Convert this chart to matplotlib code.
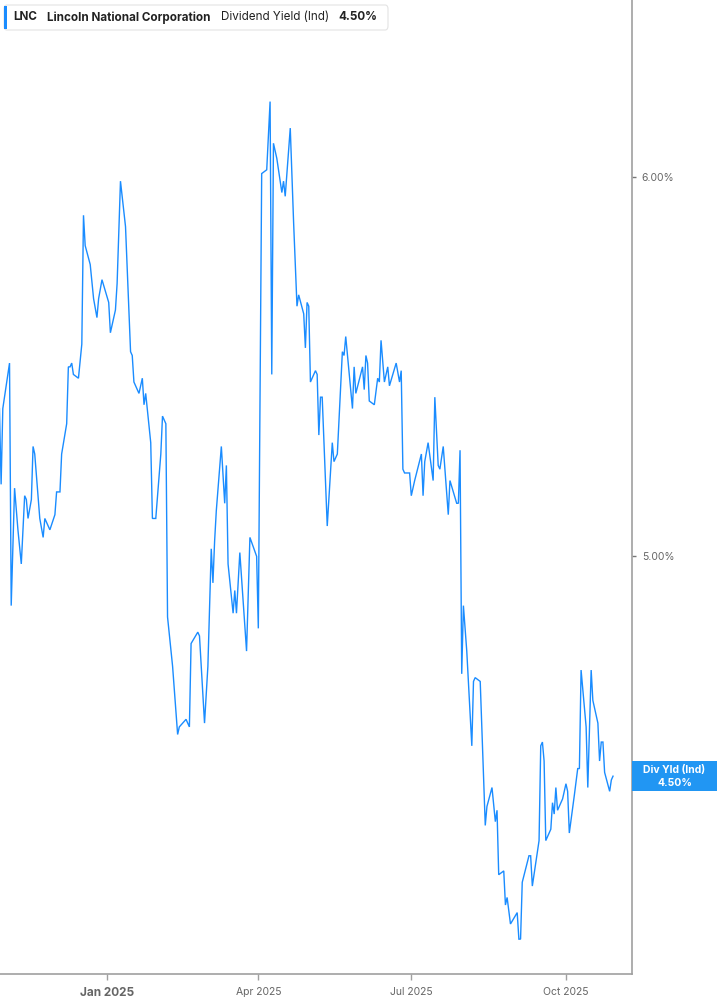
import matplotlib
matplotlib.use("Agg")
import matplotlib.pyplot as plt
import matplotlib.transforms as mtransforms
from matplotlib.patches import FancyBboxPatch, Rectangle
import pandas as pd

# LNC dividend yield (indicated), %
dates = [
    "2024-10-29", "2024-10-30", "2024-10-31", "2024-11-04", "2024-11-05", "2024-11-07",
    "2024-11-09", "2024-11-11", "2024-11-13", "2024-11-14", "2024-11-15", "2024-11-17",
    "2024-11-18", "2024-11-19", "2024-11-22", "2024-11-24", "2024-11-25", "2024-11-28",
    "2024-12-01", "2024-12-02", "2024-12-04", "2024-12-05", "2024-12-08", "2024-12-09",
    "2024-12-10", "2024-12-11", "2024-12-12", "2024-12-15", "2024-12-17", "2024-12-18",
    "2024-12-19", "2024-12-22", "2024-12-24", "2024-12-26", "2024-12-27", "2024-12-29",
    "2024-12-31", "2025-01-02", "2025-01-03", "2025-01-06", "2025-01-07", "2025-01-09",
    "2025-01-12", "2025-01-15", "2025-01-16", "2025-01-17", "2025-01-20", "2025-01-22",
    "2025-01-23", "2025-01-24", "2025-01-27", "2025-01-28", "2025-01-30", "2025-02-02",
    "2025-02-03", "2025-02-05", "2025-02-06", "2025-02-09", "2025-02-12", "2025-02-13",
    "2025-02-17", "2025-02-19", "2025-02-20", "2025-02-24", "2025-02-25", "2025-02-28",
    "2025-03-02", "2025-03-04", "2025-03-05", "2025-03-06", "2025-03-07", "2025-03-10",
    "2025-03-12", "2025-03-13", "2025-03-14", "2025-03-17", "2025-03-18", "2025-03-19",
    "2025-03-21", "2025-03-25", "2025-03-27", "2025-03-31", "2025-04-01", "2025-04-03",
    "2025-04-06", "2025-04-08", "2025-04-09", "2025-04-10", "2025-04-12", "2025-04-15",
    "2025-04-16", "2025-04-17", "2025-04-20", "2025-04-22", "2025-04-24", "2025-04-25",
    "2025-04-28", "2025-04-29", "2025-04-30", "2025-05-01", "2025-05-02", "2025-05-05",
    "2025-05-06", "2025-05-07", "2025-05-08", "2025-05-09", "2025-05-12", "2025-05-15",
    "2025-05-16", "2025-05-18", "2025-05-21", "2025-05-22", "2025-05-23", "2025-05-27",
    "2025-05-28", "2025-05-29", "2025-06-02", "2025-06-03", "2025-06-04", "2025-06-05",
    "2025-06-06", "2025-06-09", "2025-06-11", "2025-06-12", "2025-06-13", "2025-06-15",
    "2025-06-17", "2025-06-18", "2025-06-22", "2025-06-24", "2025-06-25", "2025-06-26",
    "2025-06-27", "2025-06-30", "2025-07-01", "2025-07-03", "2025-07-07", "2025-07-08",
    "2025-07-09", "2025-07-11", "2025-07-14", "2025-07-15", "2025-07-17", "2025-07-18",
    "2025-07-20", "2025-07-23", "2025-07-24", "2025-07-28", "2025-07-29", "2025-07-30",
    "2025-07-31", "2025-08-01", "2025-08-03", "2025-08-06", "2025-08-07", "2025-08-08",
    "2025-08-11", "2025-08-14", "2025-08-15", "2025-08-18", "2025-08-20", "2025-08-21",
    "2025-08-22", "2025-08-25", "2025-08-26", "2025-08-27", "2025-08-29", "2025-09-02",
    "2025-09-03", "2025-09-04", "2025-09-05", "2025-09-09", "2025-09-10", "2025-09-11",
    "2025-09-15", "2025-09-16", "2025-09-17", "2025-09-18", "2025-09-19", "2025-09-22",
    "2025-09-23", "2025-09-24", "2025-09-25", "2025-09-26", "2025-09-29", "2025-10-01",
    "2025-10-02", "2025-10-03", "2025-10-06", "2025-10-08", "2025-10-09", "2025-10-10",
    "2025-10-13", "2025-10-14", "2025-10-16", "2025-10-17", "2025-10-20", "2025-10-21",
    "2025-10-22", "2025-10-23", "2025-10-24", "2025-10-27", "2025-10-28", "2025-10-29",
]
yields = [
    5.39, 5.19, 5.39, 5.51, 4.87, 5.18, 5.07, 4.98, 5.16, 5.15, 5.10, 5.15,
    5.29, 5.27, 5.10, 5.05, 5.10, 5.07, 5.11, 5.17, 5.17, 5.27, 5.35, 5.50,
    5.50, 5.51, 5.48, 5.47, 5.56, 5.90, 5.82, 5.77, 5.68, 5.63, 5.68, 5.73,
    5.70, 5.67, 5.59, 5.65, 5.72, 5.99, 5.87, 5.54, 5.53, 5.46, 5.43, 5.47,
    5.40, 5.43, 5.30, 5.10, 5.10, 5.27, 5.37, 5.35, 4.84, 4.71, 4.53, 4.55,
    4.57, 4.55, 4.77, 4.80, 4.79, 4.56, 4.71, 5.02, 4.93, 5.04, 5.12, 5.29,
    5.14, 5.24, 4.98, 4.85, 4.91, 4.85, 5.01, 4.75, 5.05, 5.00, 4.81, 6.01,
    6.02, 6.20, 5.48, 6.09, 6.05, 5.96, 5.99, 5.95, 6.13, 5.88, 5.66, 5.69,
    5.64, 5.55, 5.67, 5.66, 5.46, 5.49, 5.48, 5.32, 5.42, 5.42, 5.08, 5.30,
    5.25, 5.27, 5.54, 5.53, 5.58, 5.39, 5.50, 5.43, 5.50, 5.44, 5.53, 5.51,
    5.41, 5.40, 5.47, 5.46, 5.57, 5.46, 5.50, 5.45, 5.51, 5.46, 5.49, 5.23,
    5.22, 5.22, 5.16, 5.20, 5.27, 5.16, 5.25, 5.30, 5.20, 5.42, 5.24, 5.23,
    5.29, 5.11, 5.20, 5.14, 5.14, 5.28, 4.69, 4.87, 4.75, 4.50, 4.67, 4.68,
    4.67, 4.29, 4.34, 4.39, 4.30, 4.33, 4.16, 4.17, 4.08, 4.10, 4.03, 4.06,
    3.99, 3.99, 4.14, 4.21, 4.21, 4.13, 4.25, 4.50, 4.51, 4.46, 4.25, 4.28,
    4.35, 4.32, 4.39, 4.33, 4.36, 4.40, 4.38, 4.27, 4.37, 4.44, 4.44, 4.70,
    4.55, 4.39, 4.70, 4.62, 4.56, 4.46, 4.51, 4.51, 4.43, 4.38, 4.41, 4.42,
]

ticker = "LNC"
company = "Lincoln National Corporation"
metric = "Dividend Yield (Ind)"
current_label = "4.50%"
ytick_values = [5.0, 6.0]
xtick_dates = ["2025-01-01", "2025-04-01", "2025-07-01", "2025-10-01"]
xtick_labels = ["Jan 2025", "Apr 2025", "Jul 2025", "Oct 2025"]

LINE = "#1a8cff"
AXIS = "#a0a0a0"
TEXT = "#666666"

plt.rcParams["font.family"] = ["Inter", "DejaVu Sans"]

x = pd.to_datetime(dates)

fig = plt.figure(figsize=(7.17, 10.05), dpi=100)
ax = fig.add_axes([0.0, 1 - 974 / 1005, 632 / 717, 974 / 1005])

ax.plot(x, yields, color=LINE, lw=1.0, solid_joinstyle="miter")

ax.set_xlim(pd.Timestamp("2024-10-29 08:00"), pd.Timestamp("2025-11-09 07:00"))
ax.set_ylim(3.898, 6.468)

for side in ["top", "left"]:
    ax.spines[side].set_visible(False)
for side in ["right", "bottom"]:
    ax.spines[side].set_color(AXIS)
    ax.spines[side].set_linewidth(1.2)

ax.yaxis.tick_right()
ax.set_yticks(ytick_values)
ax.set_yticklabels([f"{v:.2f}%" for v in ytick_values])
ax.tick_params(axis="y", direction="out", length=3, width=1, color="#777777",
               labelsize=7.5, labelcolor=TEXT, pad=4)

ax.set_xticks(pd.to_datetime(xtick_dates))
ax.set_xticklabels(xtick_labels)
ax.tick_params(axis="x", direction="out", length=4, width=1, color=AXIS,
               labelsize=7.5, labelcolor=TEXT, pad=5)
for lbl in ax.get_xticklabels():
    if lbl.get_text().startswith("Jan"):
        lbl.set_fontweight("bold")
        lbl.set_fontsize(8.5)

# header legend box
hdr = FancyBboxPatch((4 / 717, 1 - 30 / 1005), 384 / 717, 25 / 1005,
                     boxstyle="round,pad=0,rounding_size=0.004",
                     transform=fig.transFigure, facecolor="white",
                     edgecolor="#e3e3e3", lw=0.8, zorder=5)
fig.patches.append(hdr)
fig.patches.append(Rectangle((4 / 717, 1 - 29 / 1005), 3 / 717, 23 / 1005,
                             transform=fig.transFigure, facecolor=LINE,
                             edgecolor="none", zorder=6))
ty = 1 - 17.5 / 1005
fig.text(13 / 717, ty, ticker, fontsize=8.4, fontweight="bold", color="#222222",
         va="center", zorder=7)
fig.text(47 / 717, ty, company, fontsize=8.4, fontweight="bold", color="#222222",
         va="center", zorder=7)
fig.text(221 / 717, ty, metric, fontsize=8.4, color="#222222", va="center", zorder=7)
fig.text(338 / 717, ty, current_label, fontsize=8.4, fontweight="bold",
         color="#222222", va="center", zorder=7)

# last value flag on the right axis
last = yields[-1]
trans = mtransforms.blended_transform_factory(ax.transAxes, ax.transData)
px_per_unit = 974 / (6.468 - 3.898)
box_h = 30 / px_per_unit
box_w = (717 - 632) / 632
ax.add_patch(Rectangle((1.0, last - box_h / 2), box_w, box_h, transform=trans,
                       facecolor="#2196f3", edgecolor="none", clip_on=False, zorder=6))
ax.text(1.0 + box_w / 2, last + box_h * 0.2, "Div Yld (Ind)", transform=trans,
        ha="center", va="center", fontsize=7.5, fontweight="bold", color="white",
        clip_on=False, zorder=7)
ax.text(1.0 + box_w / 2, last - box_h * 0.22, current_label, transform=trans,
        ha="center", va="center", fontsize=7.5, fontweight="bold", color="white",
        clip_on=False, zorder=7)

fig.savefig("out.png", dpi=100)
